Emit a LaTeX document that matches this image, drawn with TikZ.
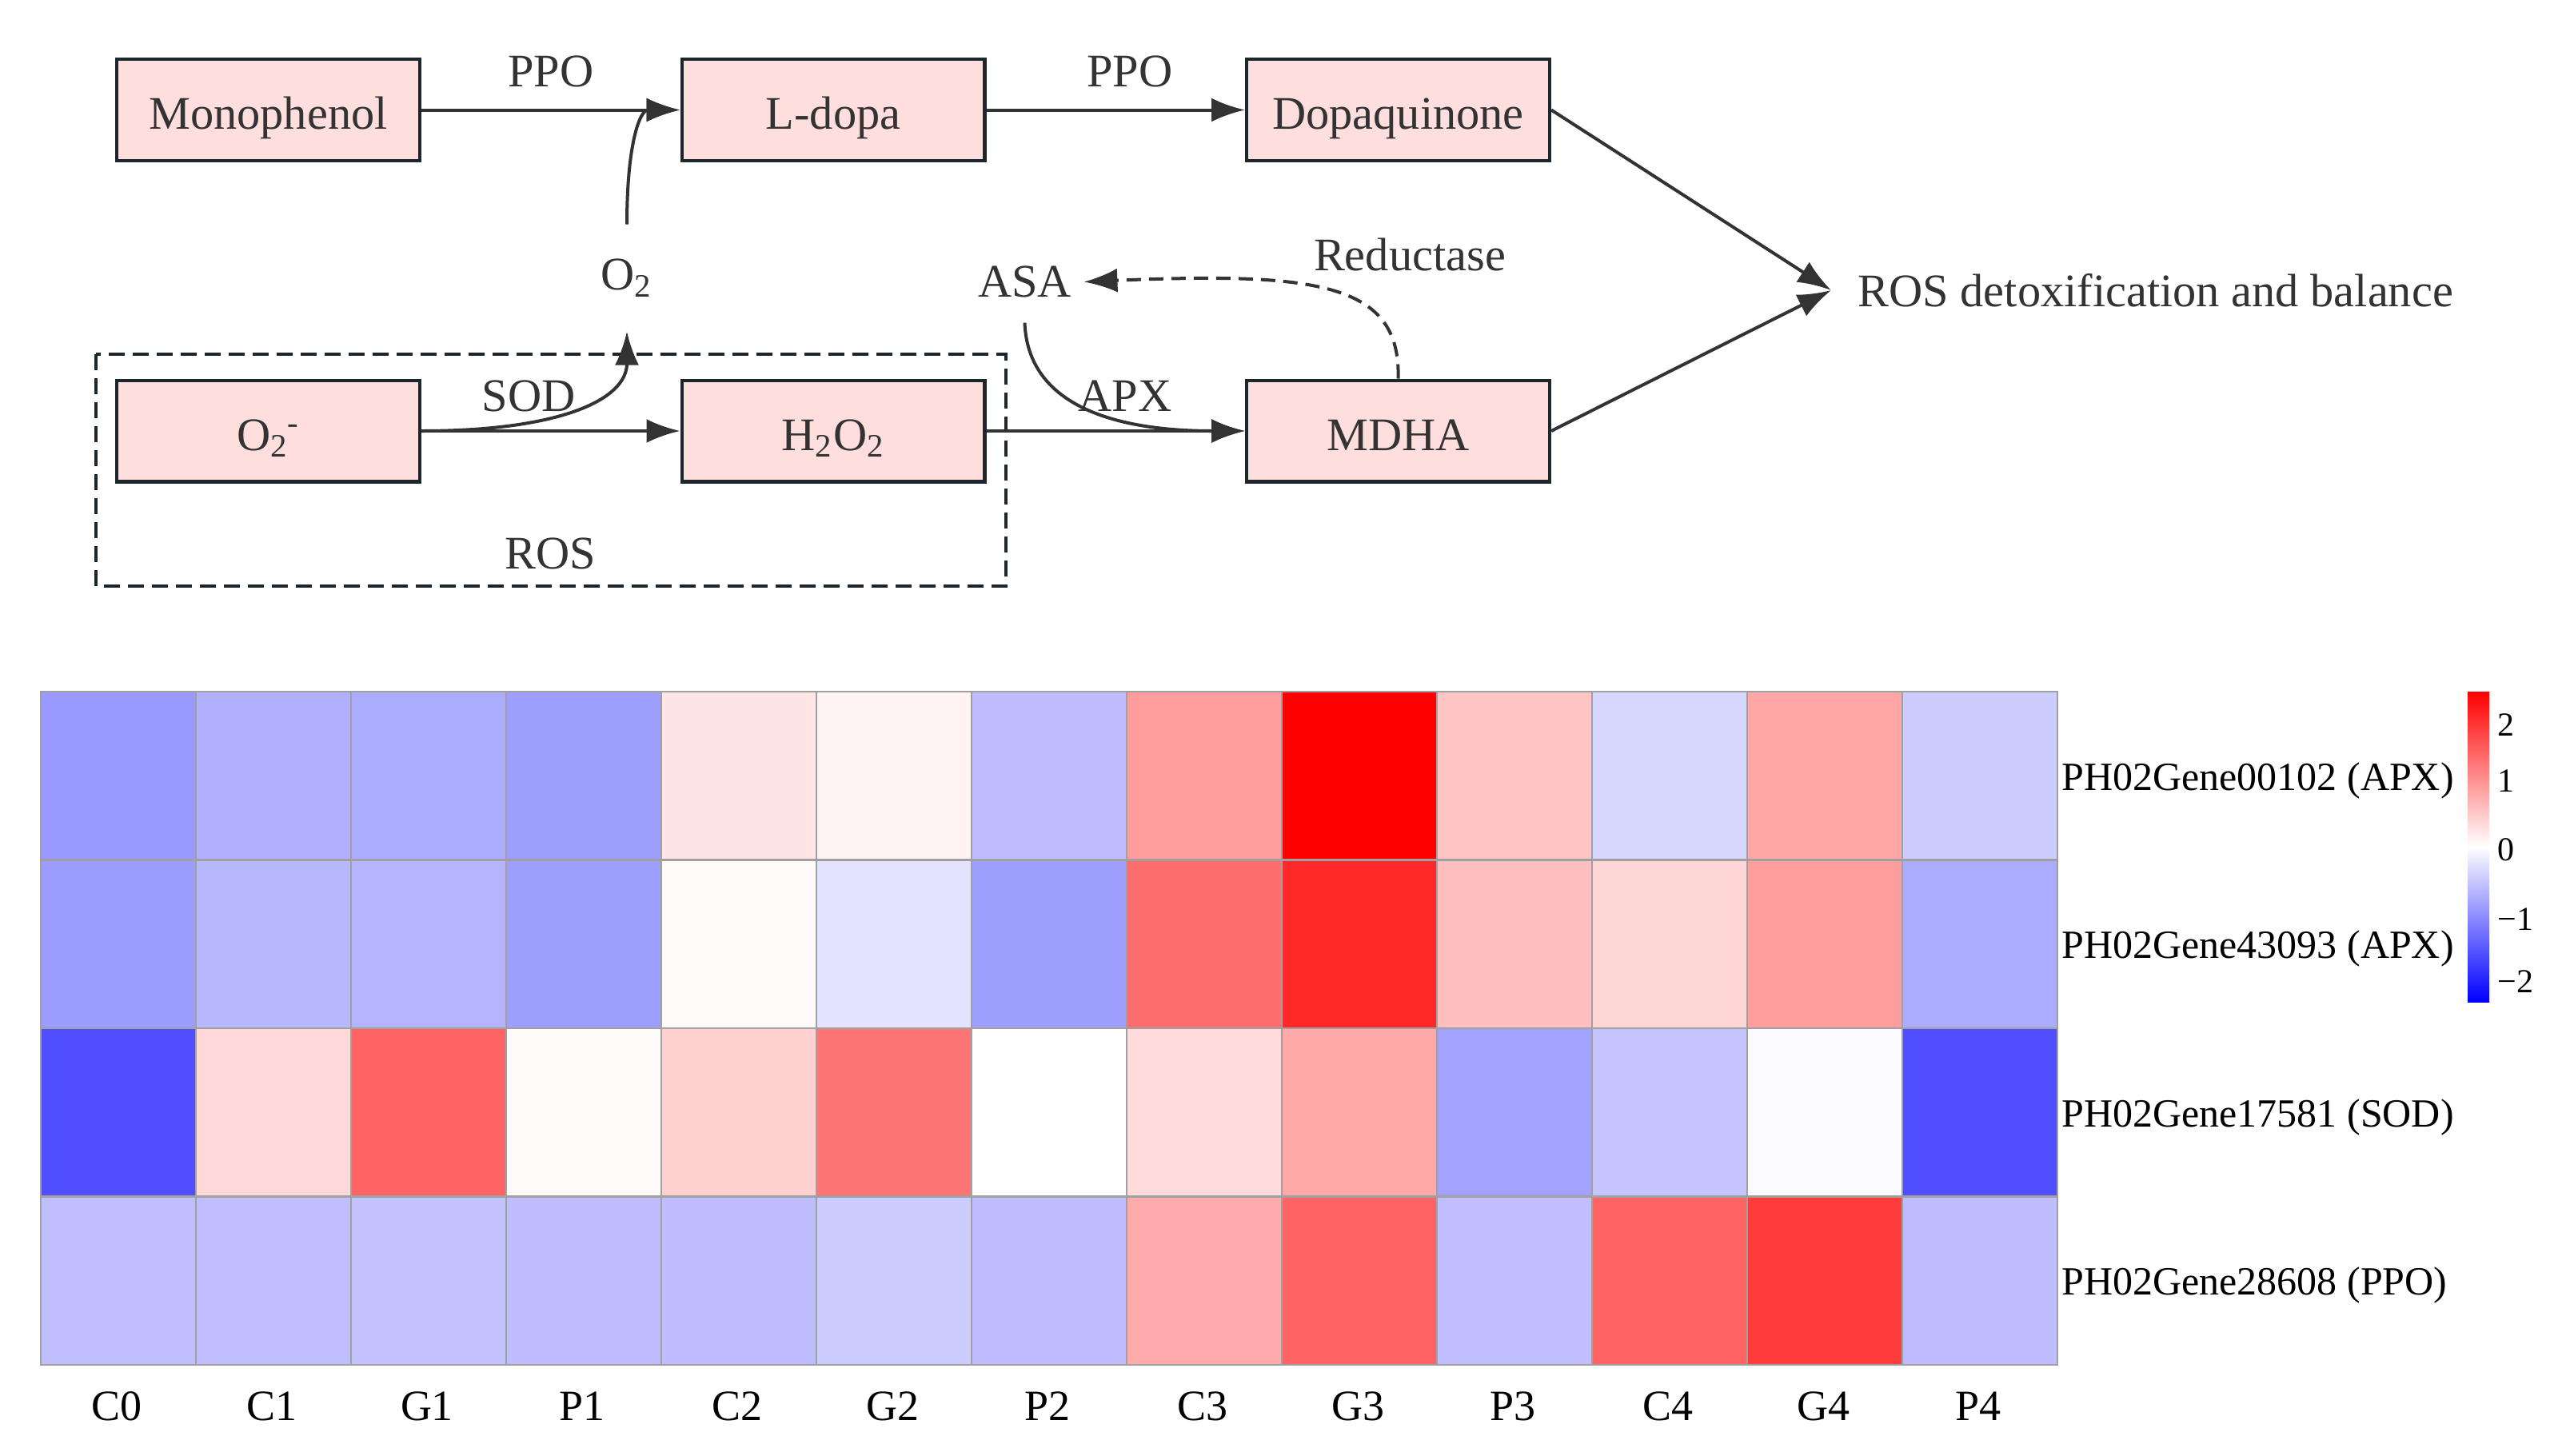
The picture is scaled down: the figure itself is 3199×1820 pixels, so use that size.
\documentclass[tikz,border=0pt]{standalone}
\usepackage{fontspec}
\setmainfont{Liberation Serif}
\usetikzlibrary{arrows.meta}

\definecolor{boxfill}{RGB}{255,222,222}
\definecolor{boxline}{RGB}{28,38,45}
\definecolor{inkgray}{RGB}{51,51,51}
\definecolor{cellline}{RGB}{160,160,160}

\tikzset{
	metabox/.style={draw=boxline, line width=1.1pt, fill=boxfill, minimum width=94.65pt, minimum height=31.65pt, inner sep=0pt, text height=12pt, text depth=0pt, text=inkgray, font=\fontsize{14.6}{17}\selectfont},
	lbl/.style={text=inkgray, inner sep=0pt, font=\fontsize{14.6}{17}\selectfont},
	flowarrow/.style={draw=inkgray, line width=1pt, -{Latex[length=10.5pt,width=7.5pt]}},
	hcell/.style={draw=cellline, line width=0.6pt},
	genelbl/.style={inner sep=0pt, anchor=west, font=\fontsize{12.5}{15}\selectfont},
	collbl/.style={inner sep=0pt, font=\fontsize{13.5}{16}\selectfont},
	ticklbl/.style={inner sep=0pt, anchor=west, font=\fontsize{10.5}{12}\selectfont}}
\tikzset{every picture/.style={line width=0.75pt}}

\begin{document}
\begin{tikzpicture}[x=0.25pt,y=0.25pt,yscale=-1,xscale=1]
	\useasboundingbox (0,0) rectangle (3199,1820);

	%Shape: Rectangle (dashed ROS frame)
	\draw [draw=boxline, line width=1pt, dash pattern=on 5pt off 2.5pt] (120,443) rectangle (1258,733);

	%Shape: Rectangle
	\node [metabox] (mono) at (335.5,137.5) {Monophenol};
	%Shape: Rectangle
	\node [metabox] (ldopa) at (1042,137.5) {L-dopa};
	%Shape: Rectangle
	\node [metabox] (dopaq) at (1748.5,137.5) {Dopaquinone};
	%Shape: Rectangle
	\node [metabox] (supox) at (335.5,539) {O\textsubscript{2}\kern-0.5pt\textsuperscript{-}};
	%Shape: Rectangle
	\node [metabox] (hperox) at (1042,539) {H\textsubscript{2}O\textsubscript{2}};
	%Shape: Rectangle
	\node [metabox] (mdha) at (1748.5,539) {MDHA};

	% Text Node
	\node [lbl, minimum height=32.75pt] (otwo) at (784,347.5) {O\textsubscript{2}};
	% Text Node
	\node [lbl, inner xsep=3.5pt, inner ysep=7.5pt] (asa) at (1281.5,352.5) {ASA};
	% Text Node
	\node [lbl, anchor=west, inner xsep=8pt] (detox) at (2290,363) {ROS detoxification and balance};
	% Text Node
	\node [lbl] (ppoa) at (689,89) {PPO};
	% Text Node
	\node [lbl] (ppob) at (1413,89) {PPO};
	% Text Node
	\node [lbl] (sod) at (661,495) {SOD};
	% Text Node
	\node [lbl] (apx) at (1407,495) {APX};
	% Text Node
	\node [lbl] (reduct) at (1763,319) {Reductase};
	% Text Node
	\node [lbl] (ros) at (688,692) {ROS};

	% Connectors
	\draw [flowarrow] (mono.east) -- (ldopa.west);
	\draw [flowarrow] (ldopa.east) -- (dopaq.west);
	\draw [flowarrow] (otwo.north) .. controls (784,180) and (800,137.5) .. (ldopa.west);
	\draw [flowarrow] (supox.east) -- (hperox.west);
	\draw [flowarrow] (supox.east) .. controls (700,539) and (784,500) .. (otwo.south);
	\draw [flowarrow] (hperox.east) -- (mdha.west);
	\draw [flowarrow] (asa.south) .. controls (1285,500) and (1380,539) .. (mdha.west);
	\draw [flowarrow, dash pattern=on 4.5pt off 2.5pt] (mdha.north) .. controls (1752,355) and (1650,340) .. (asa.east);
	\draw [flowarrow] (dopaq.east) -- (detox.west);
	\draw [flowarrow] (mdha.east) -- (detox.west);

	% Heatmap cells (signed percent: red above zero, blue below)
	\foreach \vals [count=\r from 0] in {
		{-40,-31,-33,-38,10,5,-26,39,100,23,-16,35,-20},
		{-39,-28,-29,-38,2,-11,-38,57,84,25,16,39,-33},
		{-69,15,61,2,18,54,0,14,34,-36,-23,-2,-69},
		{-25,-25,-24,-26,-26,-20,-26,33,61,-25,61,76,-26}}{
		\foreach \v [count=\c from 0] in \vals {
			\pgfmathtruncatemacro{\a}{abs(\v)}
			\ifnum\v<0 \colorlet{cellc}{blue!\a!white}\else\colorlet{cellc}{red!\a!white}\fi
			\draw [hcell, fill=cellc] ({51+194*\c},{865+210.5*\r}) rectangle ++(194,210.5);
		}
	}

	% Row labels
	\foreach \g [count=\r from 0] in {PH02Gene00102 (APX),PH02Gene43093 (APX),PH02Gene17581 (SOD),PH02Gene28608 (PPO)}
		\node [genelbl] (gene\r) at (2577,{976+210.5*\r}) {\g};
	% Column labels
	\foreach \s [count=\c from 0] in {C0,C1,G1,P1,C2,G2,P2,C3,G3,P3,C4,G4,P4}
		\node [collbl] (col\s) at ({146+194*\c},1759) {\s};

	% Colour key
	\shade [bottom color=blue, top color=red, middle color=white] (3086,865) rectangle (3113,1253);
	\foreach \t/\y in {2/907,1/977,0/1063,−1/1150,−2/1228}
		\node [ticklbl] (tick\y) at (3122,\y) {\t};

\end{tikzpicture}
\end{document}
